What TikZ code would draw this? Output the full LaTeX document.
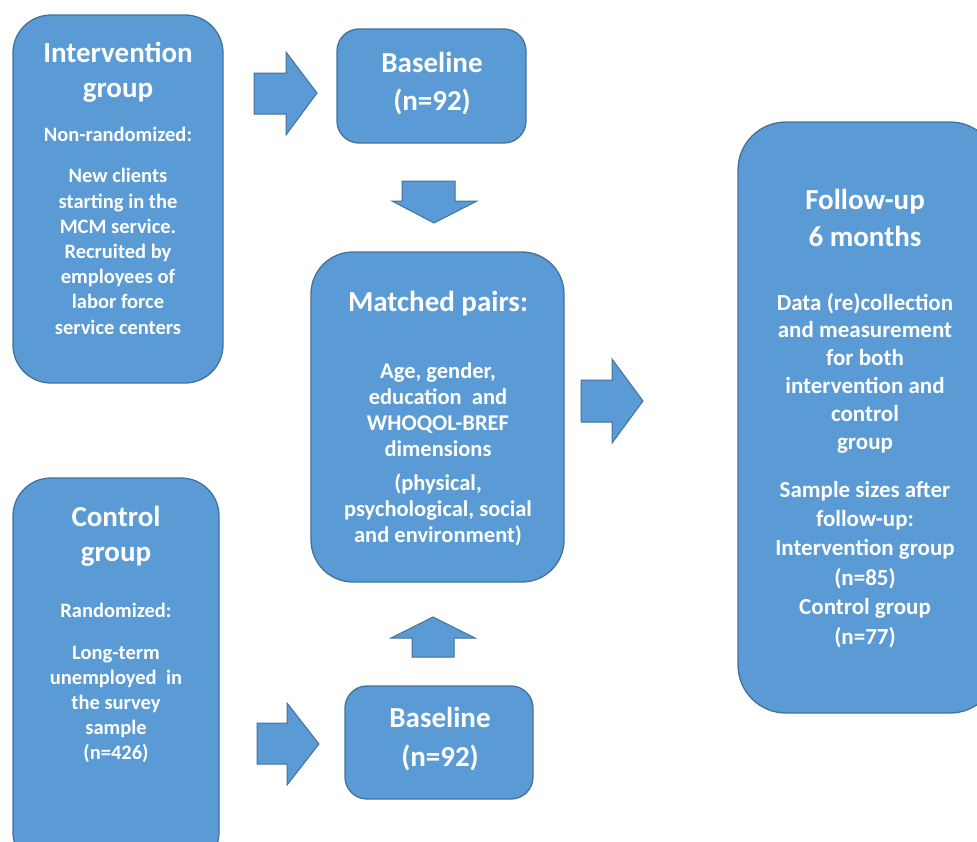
\documentclass[tikz,border=0pt]{standalone}
\usepackage{fontspec}
\setmainfont{Carlito}
\definecolor{boxfill}{HTML}{5B9BD5}
\definecolor{boxline}{HTML}{41719C}
\begin{document}
\begin{tikzpicture}[x=1pt,y=-1pt,
  box/.style={fill=boxfill, draw=boxline, line width=1.3pt, inner sep=0pt},
  blockarrow/.style={fill=boxfill, draw=boxline, line width=1pt, line join=miter},
  ttl/.style={text=white, font=\bfseries\fontsize{29}{#1}\selectfont, align=center, anchor=base, inner sep=0pt},
  ttl/.default=35,
  bdy/.style={text=white, font=\bfseries\fontsize{20.5}{#1}\selectfont, align=center, anchor=base, inner sep=0pt},
  bdy/.default=25,
  bdym/.style={text=white, font=\bfseries\fontsize{22.5}{#1}\selectfont, align=center, anchor=base, inner sep=0pt},
  bdym/.default=26,
  bdyl/.style={text=white, font=\bfseries\fontsize{23}{#1}\selectfont, align=center, anchor=base, inner sep=0pt},
  bdyl/.default=28]
\useasboundingbox (0,0) rectangle (977,841);
\clip (0,0) rectangle (977,841);

% boxes
\node[box, rounded corners=38pt, minimum width=210pt, minimum height=368pt] (int) at (118,199) {};
\node[box, rounded corners=22pt, minimum width=189pt, minimum height=114pt] (base1) at (431.5,86) {};
\node[box, rounded corners=42pt, minimum width=253pt, minimum height=330pt] (match) at (437.5,417) {};
\node[box, rounded corners=48pt, minimum width=260pt, minimum height=591pt] (follow) at (868,417.5) {};
\node[box, rounded corners=38pt, minimum width=206pt, minimum height=392pt] (ctrl) at (116,674) {};
\node[box, rounded corners=22pt, minimum width=188pt, minimum height=113pt] (base2) at (439,742.5) {};

% block arrows
\draw[blockarrow] (254,73) -- (286,73) -- (286,52) -- (317,93) -- (286,135) -- (286,114) -- (254,114) -- cycle;
\draw[blockarrow] (402,181) -- (455,181) -- (455,201) -- (477,201) -- (434,223) -- (392,201) -- (402,201) -- cycle;
\draw[blockarrow] (581,380) -- (612,380) -- (612,359) -- (643,401) -- (612,443) -- (612,422) -- (581,422) -- cycle;
\draw[blockarrow] (412,657) -- (412,638) -- (391,638) -- (433,617) -- (475,638) -- (454,638) -- (454,657) -- cycle;
\draw[blockarrow] (257,723) -- (287,723) -- (287,703) -- (319,744) -- (287,785) -- (287,764) -- (257,764) -- cycle;

% texts (anchor = baseline of last line)
\node[ttl] (intT) at (118,97.5) {Intervention\\group};
\node[bdy] (intA) at (118,141) {Non-randomized:};
\node[bdy=25.2] (intB) at (118,334) {New clients\\starting in the\\MCM service.\\Recruited by\\employees of\\labor force\\service centers};

\node[ttl=38] (base1T) at (432,110) {Baseline\\(n=92)};

\node[ttl] (matchT) at (438,311) {Matched pairs:};
\node[bdym] (matchA) at (438,456) {Age, gender,\\education~ and\\WHOQOL-BREF\\dimensions};
\node[bdym] (matchB) at (438,542) {(physical,\\psychological, social\\and environment)};

\node[ttl=37] (followT) at (865,246) {Follow-up\\6 months};
\node[bdyl=27.8] (followA) at (865,449) {Data (re)collection\\and measurement\\for both\\intervention and\\control\\group};
\node[bdyl=29.4] (followB) at (865,644) {Sample sizes after\\follow-up:\\Intervention group\\(n=85)\\Control group\\(n=77)};

\node[ttl] (ctrlT) at (116,561) {Control\\group};
\node[bdy] (ctrlA) at (116,617) {Randomized:};
\node[bdy] (ctrlB) at (116,759) {Long-term\\unemployed~ in\\the survey\\sample\\(n=426)};

\node[ttl=39] (base2T) at (440,766) {Baseline\\(n=92)};
\end{tikzpicture}
\end{document}
